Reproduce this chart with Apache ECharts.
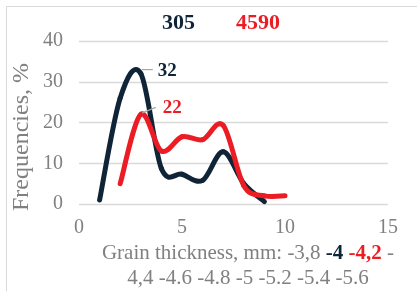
<!DOCTYPE html>
<html>
<head>
<meta charset="utf-8">
<script src="https://cdn.jsdelivr.net/npm/echarts@6/dist/echarts.min.js"></script>
<style>
  html, body { margin: 0; padding: 0; background: #fff; }
  #chart { width: 417px; height: 291px; }
</style>
</head>
<body>
<div id="chart"></div>
<script>
// grain thickness class (x) and frequency in % (y)
var x305 = [1, 2, 3, 4, 5, 6, 7, 8, 9];
var freq305 = [1, 26, 32, 8.7, 7.3, 5.8, 12.8, 5, 0.6];
var x4590 = [2, 3, 4, 5, 6, 7, 8, 9, 10];
var freq4590 = [5, 22, 13, 16.5, 15.8, 19.3, 4.5, 2, 2];
var xTicks = [0, 5, 10, 15];
var yTicks = [0, 10, 20, 30, 40];

var navy = '#0f2437',
    red = '#ec1c24',
    grey = '#808080',
    serif = '"Liberation Serif", "Times New Roman", serif';

var chart = echarts.init(document.getElementById('chart'));

// smoothed line like the spreadsheet one, one bezier piece per data item,
// the peak item also carries its value label with a short guide line
function splineSeries(name, xs, ys, color, guide, textOff) {
  var data = xs.map(function (x, i) { return [x, ys[i]]; });
  var peak = ys.indexOf(Math.max.apply(null, ys));
  return {
    name: name,
    type: 'custom',
    data: data,
    encode: { x: 0, y: 1 },
    silent: true,
    renderItem: function (params, api) {
      var i = params.dataIndex;
      var pt = function (k) {
        k = Math.max(0, Math.min(data.length - 1, k));
        return api.coord(data[k]);
      };
      var children = [];
      if (i < data.length - 1) {
        var p0 = pt(i - 1), p1 = pt(i), p2 = pt(i + 1), p3 = pt(i + 2);
        children.push({
          type: 'bezierCurve',
          shape: {
            x1: p1[0], y1: p1[1], x2: p2[0], y2: p2[1],
            cpx1: p1[0] + (p2[0] - p0[0]) / 6, cpy1: p1[1] + (p2[1] - p0[1]) / 6,
            cpx2: p2[0] - (p3[0] - p1[0]) / 6, cpy2: p2[1] - (p3[1] - p1[1]) / 6
          },
          style: { stroke: color, lineWidth: 5, fill: null, lineCap: 'round' }
        });
      }
      if (i == peak) {
        var c = api.coord(data[i]);
        children.push({
          type: 'polyline',
          z2: 5,
          shape: { points: guide.map(function (d) { return [c[0] + d[0], c[1] + d[1]]; }) },
          style: { stroke: '#a6a6a6', lineWidth: 1.2, fill: null }
        });
        children.push({
          type: 'text',
          z2: 6,
          x: c[0] + textOff[0],
          y: c[1] + textOff[1],
          style: {
            text: String(ys[i]),
            fill: color,
            font: 'bold 19px ' + serif,
            verticalAlign: 'middle'
          }
        });
      }
      return { type: 'group', children: children };
    },
    animation: false
  };
}

chart.setOption({
  backgroundColor: '#fff',
  animation: false,
  textStyle: { fontFamily: serif },
  grid: { left: 79, right: 29, top: 41, bottom: 87 },
  xAxis: {
    type: 'value',
    min: xTicks[0],
    max: xTicks[xTicks.length - 1],
    interval: 5,
    axisLine: { show: false },
    axisTick: { show: false },
    splitLine: { show: false },
    axisLabel: { color: grey, fontSize: 20, fontFamily: serif, margin: 14 }
  },
  yAxis: {
    type: 'value',
    min: yTicks[0],
    max: yTicks[yTicks.length - 1],
    interval: 10,
    axisLine: { show: false },
    axisTick: { show: false },
    splitLine: { lineStyle: { color: '#d9d9d9', width: 1.3 } },
    axisLabel: { color: grey, fontSize: 20, fontFamily: serif, margin: 16 }
  },
  graphic: [
    {
      type: 'rect',
      shape: { x: 6.5, y: 6.5, width: 430, height: 300 },
      style: { fill: 'none', stroke: '#d9d9d9', lineWidth: 1 },
      silent: true
    },
    {
      type: 'text',
      left: 162, top: 12,
      style: { text: '305', fill: navy, font: 'bold 22px ' + serif }
    },
    {
      type: 'text',
      left: 236, top: 12,
      style: { text: '4590', fill: red, font: 'bold 22px ' + serif }
    },
    {
      // y axis title
      type: 'text',
      x: 22, y: 137,
      rotation: Math.PI / 2,
      style: {
        text: 'Frequencies, %',
        fill: grey,
        font: '24px ' + serif,
        align: 'center',
        verticalAlign: 'middle'
      }
    },
    {
      // x axis title with the two highlighted classes
      type: 'text',
      x: 248, y: 241,
      style: {
        text: 'Grain thickness, mm: -3,8 {b|-4} {r|-4,2} -\n4,4 -4.6 -4.8 -5 -5.2 -5.4 -5.6',
        align: 'center',
        verticalAlign: 'top',
        fill: grey,
        font: '21px ' + serif,
        lineHeight: 25,
        rich: {
          b: { fill: navy, font: 'bold 21px ' + serif, lineHeight: 25 },
          r: { fill: red, font: 'bold 21px ' + serif, lineHeight: 25 }
        }
      }
    }
  ],
  series: [
    splineSeries('305', x305, freq305, navy, [[1, -4], [12, -4]], [17, -2.5]),
    splineSeries('4590', x4590, freq4590, red, [[1.5, -1.5], [15, -7]], [22, -6])
  ]
});
</script>
</body>
</html>
